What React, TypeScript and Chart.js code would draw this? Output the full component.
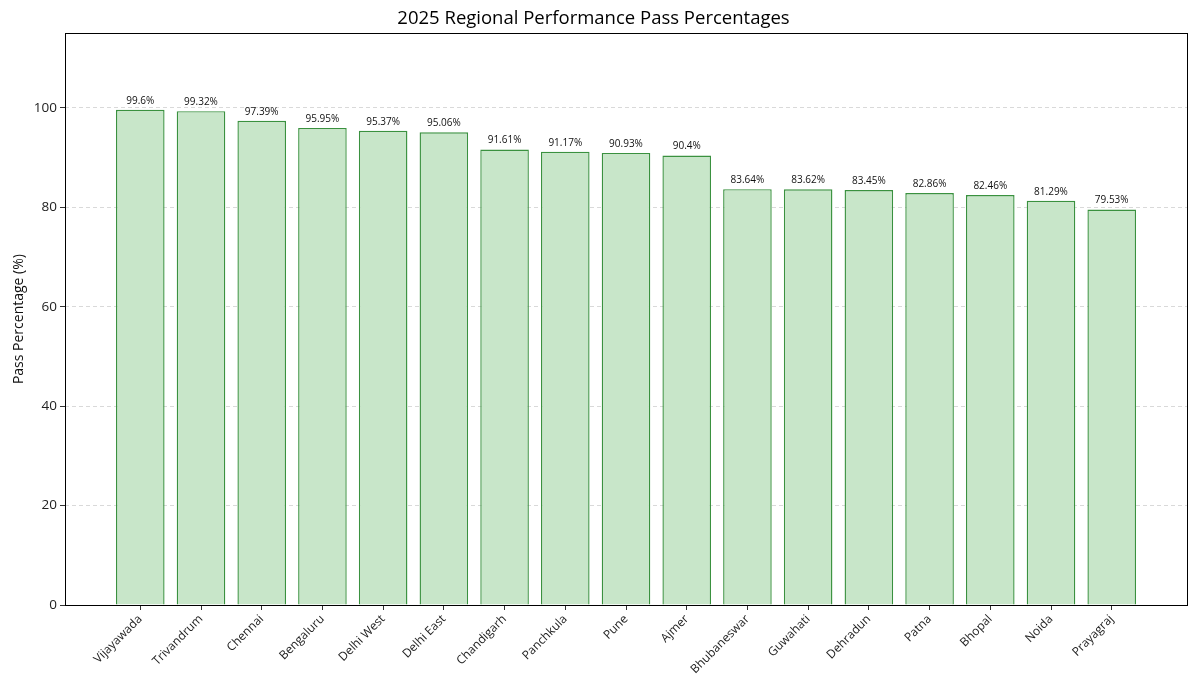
import React, { useEffect, useRef } from "react";
import { Chart, registerables } from "chart.js";

Chart.register(...registerables);

const regions = [
  "Vijayawada", "Trivandrum", "Chennai", "Bengaluru", "Delhi West", "Delhi East",
  "Chandigarh", "Panchkula", "Pune", "Ajmer", "Bhubaneswar", "Guwahati",
  "Dehradun", "Patna", "Bhopal", "Noida", "Prayagraj",
];
const passPercentages = [
  99.6, 99.32, 97.39, 95.95, 95.37, 95.06, 91.61, 91.17, 90.93, 90.4,
  83.64, 83.62, 83.45, 82.86, 82.46, 81.29, 79.53,
];
const yTicks = [0, 20, 40, 60, 80, 100];

const FONT = "'Open Sans', 'DejaVu Sans', sans-serif";

export default function App() {
  const ref = useRef<HTMLCanvasElement | null>(null);
  useEffect(() => {
    document.body.style.margin = "0";
    const canvas = ref.current!;
    const framePlugin = {
      id: "frame",
      afterDraw(chart: any) {
        const { ctx, chartArea } = chart;
        ctx.save();
        ctx.strokeStyle = "#000";
        ctx.lineWidth = 1;
        ctx.strokeRect(
          Math.round(chartArea.left) + 0.5,
          Math.round(chartArea.top) + 0.5,
          Math.round(chartArea.right - chartArea.left),
          Math.round(chartArea.bottom - chartArea.top)
        );
        ctx.restore();
      },
      afterDatasetsDraw(chart: any) {
        const { ctx } = chart;
        const meta = chart.getDatasetMeta(0);
        ctx.save();
        ctx.font = `10px ${FONT}`;
        ctx.fillStyle = "#111";
        ctx.textAlign = "center";
        ctx.textBaseline = "bottom";
        meta.data.forEach((bar: any, i: number) => {
          ctx.fillText(`${passPercentages[i]}%`, bar.x, bar.y - 4);
        });
        ctx.restore();
      },
    };
    const chart = new Chart(canvas, {
      type: "bar",
      data: {
        datasets: [
          {
            data: passPercentages.map((v, i) => ({ x: i, y: v })),
            backgroundColor: "#c8e6c9",
            borderColor: "#3a913f",
            borderWidth: 1.4,
            barPercentage: 0.8,
            categoryPercentage: 1,
          },
        ],
      },
      options: {
        animation: false,
        responsive: false,
        devicePixelRatio: 1,
        layout: { padding: { left: 0, right: 13, top: 0, bottom: 0 } },
        plugins: {
          legend: { display: false },
          tooltip: { enabled: false },
          title: {
            display: true,
            text: "2025 Regional Performance Pass Percentages",
            color: "#000",
            font: { family: FONT, size: 18.5, weight: "normal" },
            padding: { top: 8, bottom: 3 },
          },
        },
        scales: {
          x: {
            type: "linear",
            offset: false,
            min: -1.24,
            max: 17.24,
            afterBuildTicks: (scale: any) => {
              scale.ticks = regions.map((_, i) => ({ value: i }));
            },
            afterFit: (scale: any) => {
              scale.height = 81;
            },
            ticks: {
              autoSkip: false,
              maxRotation: 45,
              minRotation: 45,
              padding: 2,
              color: "#222",
              font: { family: FONT, size: 12 },
              callback: (_v: any, i: number) => regions[i],
            },
            grid: {
              offset: false,
              drawOnChartArea: false,
              drawTicks: true,
              tickLength: 5,
              tickColor: "#333",
            },
            border: { display: false },
          },
          y: {
            min: 0,
            max: 115,
            afterBuildTicks: (scale: any) => {
              scale.ticks = yTicks.map((v) => ({ value: v }));
            },
            afterFit: (scale: any) => {
              scale.width = 65;
            },
            title: {
              display: true,
              text: "Pass Percentage (%)",
              color: "#111",
              font: { family: FONT, size: 14 },
              padding: { top: 11, bottom: 0 },
            },
            ticks: {
              color: "#222",
              padding: 3,
              font: { family: FONT, size: 13.5 },
            },
            grid: {
              color: "#d9d9d9",
              drawTicks: true,
              tickLength: 5,
              tickColor: "#333",
              tickBorderDash: [],
            } as any,
            border: { display: false, dash: [4, 3] },
          },
        },
      } as any,
      plugins: [framePlugin],
    });
    return () => chart.destroy();
  }, []);
  return (
    <div style={{ width: 1200, height: 686, background: "#fff" }}>
      <canvas ref={ref} width={1200} height={686} />
    </div>
  );
}
